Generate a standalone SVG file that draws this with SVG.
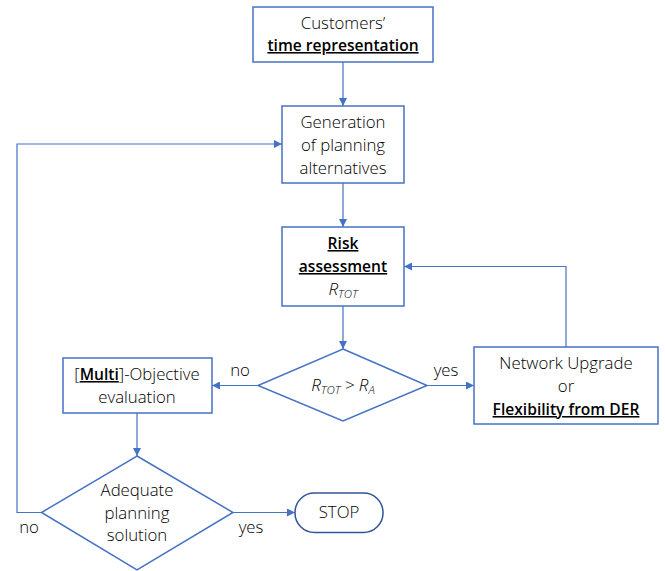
<svg xmlns="http://www.w3.org/2000/svg" width="665" height="571" viewBox="0 0 665 571">
<style>
.box{fill:#fff;stroke:#4472C4;stroke-width:1.5}
.ln{fill:none;stroke:#4472C4;stroke-width:1.2}
text{font-family:"Open Sans","Liberation Sans",sans-serif;font-size:16.8px;font-weight:300;fill:#000;text-anchor:middle}
.b{font-weight:600;font-size:15.6px;text-decoration:underline}
.i{font-style:italic;font-size:17px}
.s{font-size:11.5px}
</style>
<defs>
<marker id="ah" viewBox="0 0 10 10" refX="10" refY="5" markerWidth="8" markerHeight="8" markerUnits="userSpaceOnUse" orient="auto">
<path d="M0,0 L10,5 L0,10 z" fill="#4472C4"/>
</marker>
</defs>
<g id="connectors">
<path class="ln" d="M343,62 V106" marker-end="url(#ah)"/>
<path class="ln" d="M343,183 V227" marker-end="url(#ah)"/>
<path class="ln" d="M343,306 V349" marker-end="url(#ah)"/>
<path class="ln" d="M258,385.5 H212" marker-end="url(#ah)"/>
<path class="ln" d="M427,385.5 H474" marker-end="url(#ah)"/>
<path class="ln" d="M566,347 V266.5 H404" marker-end="url(#ah)"/>
<path class="ln" d="M137,413 V456" marker-end="url(#ah)"/>
<path class="ln" d="M41.5,512.5 H17 V144 H282" marker-end="url(#ah)"/>
<path class="ln" d="M233,512.5 H295" marker-end="url(#ah)"/>
<text x="240" y="376">no</text>
<text x="446" y="376">yes</text>
<text x="29" y="533">no</text>
<text x="251" y="533">yes</text>
</g>
<g id="customers">
<rect class="box" x="253" y="7" width="180" height="55"/>
<text x="343" y="29">Customers’</text>
<text x="343" y="51" class="b">time representation</text>
</g>
<g id="generation">
<rect class="box" x="282" y="106" width="122" height="77"/>
<text x="343" y="128">Generation</text>
<text x="343" y="151">of planning</text>
<text x="343" y="174">alternatives</text>
</g>
<g id="risk">
<rect class="box" x="282" y="227" width="122" height="79"/>
<text x="343" y="249" class="b">Risk</text>
<text x="343" y="272" class="b">assessment</text>
<text x="343" y="295" class="i">R<tspan class="s" dy="3">TOT</tspan></text>
</g>
<g id="decision-risk">
<polygon class="box" points="343,349 427,385.5 343,421 258,385.5"/>
<text x="343" y="391" class="i">R<tspan class="s" dy="3">TOT</tspan><tspan dy="-3"> &gt; R</tspan><tspan class="s" dy="3">A</tspan></text>
</g>
<g id="multi-objective">
<rect class="box" x="63" y="358" width="149" height="55"/>
<text x="137" y="380">[<tspan class="b">Multi</tspan>]-Objective</text>
<text x="137" y="403">evaluation</text>
</g>
<g id="network-upgrade">
<rect class="box" x="474" y="347" width="184" height="77"/>
<text x="566" y="369">Network Upgrade</text>
<text x="566" y="392">or</text>
<text x="566" y="415" class="b">Flexibility from DER</text>
</g>
<g id="decision-adequate">
<polygon class="box" points="137,456 233,512.5 137,570 41.5,512.5"/>
<text x="137" y="496">Adequate</text>
<text x="137" y="519">planning</text>
<text x="137" y="541">solution</text>
</g>
<g id="stop">
<rect x="295" y="493" width="88" height="39.5" rx="19.5" fill="#fff" stroke="#2F5597" stroke-width="1.5"/>
<text x="339" y="518">STOP</text>
</g>
</svg>
